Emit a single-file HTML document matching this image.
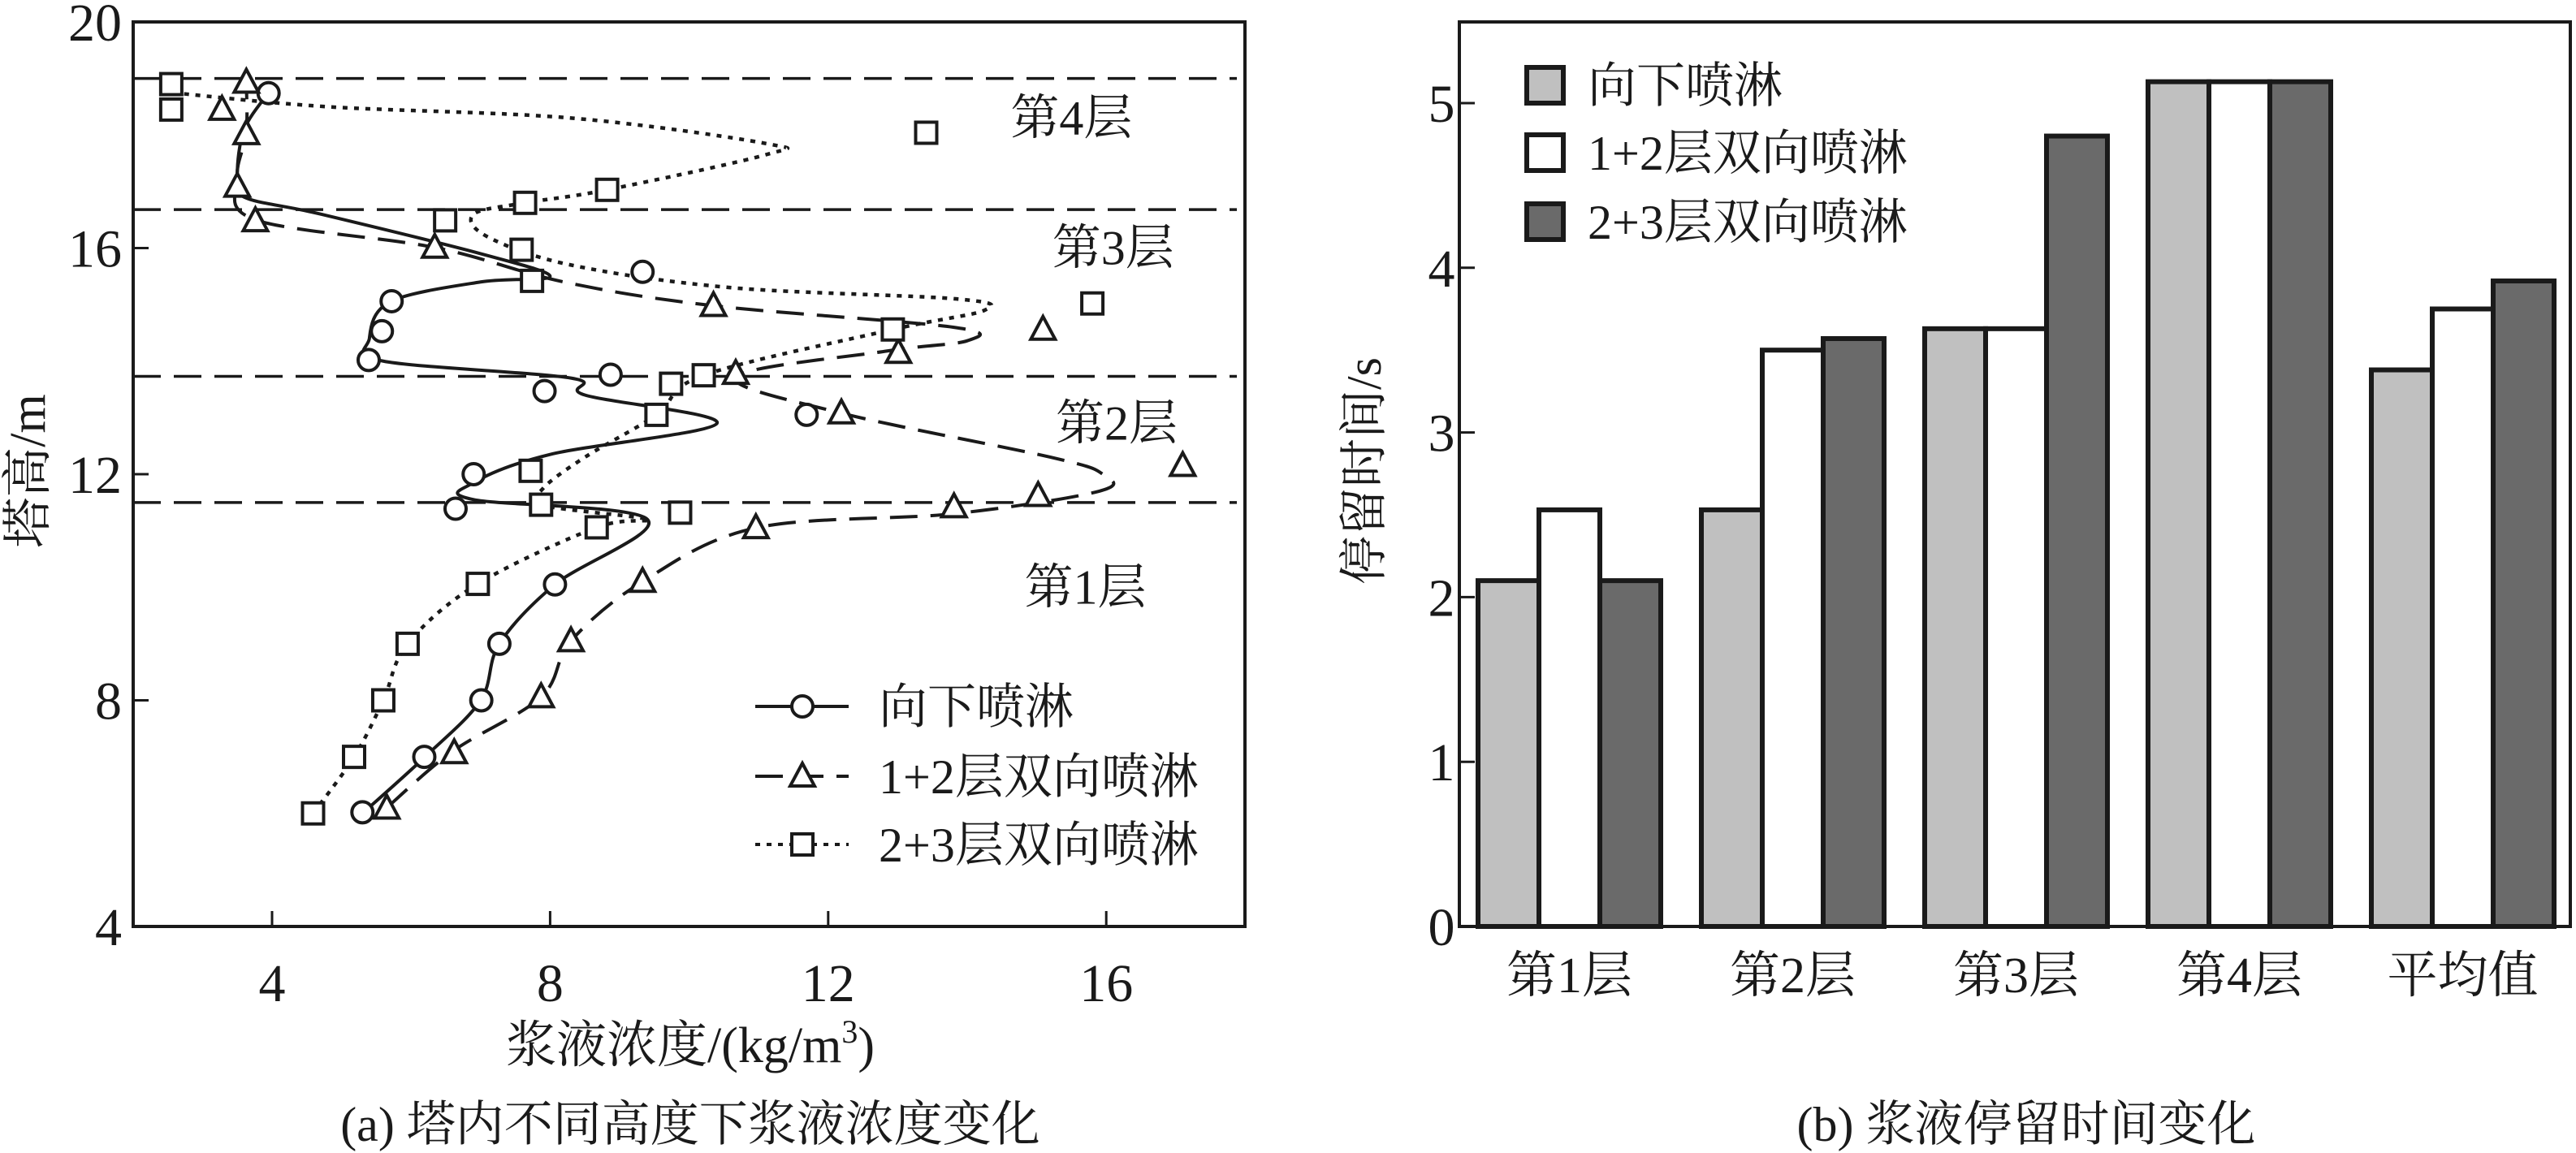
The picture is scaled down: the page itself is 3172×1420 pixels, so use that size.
<!DOCTYPE html>
<html><head><meta charset="utf-8">
<style>
html,body{margin:0;padding:0;background:#fff;}
svg{display:block;}
text{font-family:"Liberation Serif","Noto Serif CJK SC","Noto Sans CJK SC",serif;fill:#1a1a1a;}
</style></head>
<body>
<svg id="fig" width="3172" height="1420" viewBox="0 0 3172 1420" xmlns="http://www.w3.org/2000/svg">
<g id="left"></g>
<g id="right"></g>
</svg>
<script>
// ---------- Left chart data ----------
const xTicks=[4,8,12,16];
const yTicks=[4,8,12,16,20];
const layerLines=[19.0,16.68,13.73,11.5];
const layerLabels=["第4层","第3层","第2层","第1层"];
const layerLabelPos=[[15.5,18.3],[16.1,16.0],[16.15,12.9],[15.7,10.0]];
const circX=[3.95,9.33,5.72,5.58,5.39,8.87,7.92,11.69,6.90,6.64,8.07,7.27,7.01,6.19,5.30];
const circY=[18.74,15.58,15.06,14.53,14.02,13.76,13.47,13.05,12.0,11.39,10.05,9.0,8.0,7.0,6.02];
const triX=[3.63,3.28,3.63,3.5,3.76,6.34,10.35,15.09,13.01,10.67,12.19,17.1,15.02,13.81,10.96,9.33,8.3,7.87,6.62,5.65];
const triY=[18.93,18.45,18.02,17.09,16.48,16.01,14.98,14.56,14.15,13.78,13.08,12.15,11.62,11.42,11.05,10.1,9.05,8.06,7.07,6.09];
const sqX=[2.55,2.55,13.41,8.82,7.64,6.49,7.59,7.74,15.80,12.93,10.21,9.74,9.53,7.72,7.87,9.87,8.67,6.96,5.95,5.6,5.18,4.59];
const sqY=[18.9,18.45,18.04,17.03,16.8,16.49,15.97,15.42,15.02,14.56,13.75,13.6,13.05,12.06,11.46,11.32,11.06,10.06,9.0,8.0,7.0,6.0];
// fitted curves
const solidCx=[5.3,6.2,7.0,7.27,8.07,9.4,6.9,6.9,8.0,10.4,8.5,8.3,5.6,5.4,5.7,7.0,8.0,7.0,4.7,3.6,3.5,3.6,3.95];
const solidCy=[6.0,7.0,8.0,9.0,10.05,11.2,11.55,11.85,12.35,12.9,13.4,13.7,14.0,14.4,15.05,15.4,15.5,15.9,16.6,16.9,17.3,18.1,18.75];
const dashCx=[5.65,6.6,7.87,8.3,9.33,10.96,13.8,15.9,15.95,15.2,12.19,10.67,12.85,14.0,13.8,10.35,8.2,6.34,3.76,3.5,3.63,3.63];
const dashCy=[6.1,7.1,8.06,9.05,10.1,11.05,11.3,11.7,12.0,12.3,13.08,13.72,14.18,14.36,14.6,14.98,15.4,16.01,16.5,17.25,18.05,18.93];
const dotCx=[4.59,5.18,5.6,5.95,6.96,8.67,9.4,7.9,7.9,8.5,9.53,10.21,12.93,14.25,13.85,10.6,8.3,7.1,6.9,7.64,8.82,11.1,11.1,8.3,4.8,2.55];
const dotCy=[6.0,7.0,8.0,9.0,10.06,11.06,11.2,11.45,11.75,12.3,13.05,13.75,14.56,14.9,15.1,15.3,15.7,16.2,16.6,16.8,17.03,17.65,17.85,18.3,18.5,18.75];
const legendLabels=["向下喷淋","1+2层双向喷淋","2+3层双向喷淋"];

// ---------- Right chart data ----------
const categories=["第1层","第2层","第3层","第4层","平均值"];
const seriesDown=[2.1,2.53,3.63,5.13,3.38];
const series12=[2.53,3.5,3.63,5.13,3.75];
const series23=[2.1,3.57,4.8,5.13,3.92];
const rTicks=[0,1,2,3,4,5];

const NS="http://www.w3.org/2000/svg";
function mk(parent,tag,attrs,txt){const e=document.createElementNS(NS,tag);for(const k in attrs)e.setAttribute(k,attrs[k]);if(txt!==undefined)e.textContent=txt;parent.appendChild(e);return e;}

// ---- left axes ----
const L=document.getElementById('left');
const LX0=164,LX1=1533,LY0=1141,LY1=27;
const lx=v=>335+(v-4)*85.6;
const ly=v=>1141-(v-4)*69.625;
let fr=mk(L,'rect',{x:LX0,y:LY1,width:LX1-LX0,height:LY0-LY1,fill:'none',stroke:'#1a1a1a','stroke-width':4});


xTicks.forEach(t=>{
  let l=mk(L,'line',{x1:lx(t),x2:lx(t),y1:LY0,y2:LY0-19,stroke:'#1a1a1a','stroke-width':3});
  
  
  let tx=mk(L,'text',{x:lx(t),y:LY0+92,'font-size':66,'text-anchor':'middle'},String(t));
  
  
});
yTicks.forEach(t=>{
  if(t!==4&&t!==20){let l=mk(L,'line',{x1:LX0,x2:LX0+19,y1:ly(t),y2:ly(t),stroke:'#1a1a1a','stroke-width':3});
  
  }
  let tx=mk(L,'text',{x:150,y:ly(t)+23,'font-size':66,'text-anchor':'end'},String(t));
  
  
});
layerLines.forEach(v=>{
  let l=mk(L,'line',{x1:LX0,x2:LX1-10,y1:ly(v),y2:ly(v),stroke:'#1a1a1a','stroke-width':3.5,'stroke-dasharray':'34 16'});
  
  
});
layerLabels.forEach((s,i)=>{
  let t=mk(L,'text',{x:lx(layerLabelPos[i][0]),y:ly(layerLabelPos[i][1])+20,'font-size':60,'text-anchor':'middle'},s);
  
  
});
let xt=mk(L,'text',{x:850,y:1308,'font-size':62,'text-anchor':'middle'});


xt.innerHTML='浆液浓度/(kg/m<tspan dy="-24" font-size="40">3</tspan><tspan dy="24">)</tspan>';
let yt=mk(L,'text',{x:0,y:0,'font-size':62,'text-anchor':'middle',transform:'translate(55,580) rotate(-90)'},'塔高/m');


let capA=mk(L,'text',{x:850,y:1405,'font-size':60,'text-anchor':'middle'},'(a) 塔内不同高度下浆液浓度变化');



function crPath(px,py){
  let d=`M${px[0]},${py[0]}`;
  for(let i=0;i<px.length-1;i++){
    const p0=i?i-1:i,p3=i+2<px.length?i+2:i+1;
    const c1x=px[i]+(px[i+1]-px[p0])/6,c1y=py[i]+(py[i+1]-py[p0])/6;
    const c2x=px[i+1]-(px[p3]-px[i])/6,c2y=py[i+1]-(py[p3]-py[i])/6;
    d+=` C${c1x},${c1y} ${c2x},${c2y} ${px[i+1]},${py[i+1]}`;
  }
  return d;
}
let c1=mk(L,'path',{d:crPath(solidCx.map(lx),solidCy.map(ly)),fill:'none',stroke:'#1a1a1a','stroke-width':4});


let c2=mk(L,'path',{d:crPath(dashCx.map(lx),dashCy.map(ly)),fill:'none',stroke:'#1a1a1a','stroke-width':4,'stroke-dasharray':'34 16'});


let c3=mk(L,'path',{d:crPath(dotCx.map(lx),dotCy.map(ly)),fill:'none',stroke:'#1a1a1a','stroke-width':4.5,'stroke-dasharray':'6 8'});



function circle(x,y){return mk(L,'circle',{cx:x,cy:y,r:13,fill:'#fff',stroke:'#1a1a1a','stroke-width':4});}
function tri(x,y){return mk(L,'polygon',{points:`${x},${y-16} ${x+15},${y+12} ${x-15},${y+12}`,fill:'#fff',stroke:'#1a1a1a','stroke-width':4});}
function sq(x,y){return mk(L,'rect',{x:x-13,y:y-13,width:26,height:26,fill:'#fff',stroke:'#1a1a1a','stroke-width':4});}
circX.forEach((v,i)=>{let e=circle(lx(v),ly(circY[i]));
  
  });
triX.forEach((v,i)=>{let e=tri(lx(v),ly(triY[i]));
  
  });
sqX.forEach((v,i)=>{let e=sq(lx(v),ly(sqY[i]));
  
  });

// legend left
const legY=[870,956,1040];
const dashes=['none','34 16','6 8'];
legendLabels.forEach((s,i)=>{
  let l=mk(L,'line',{x1:930,x2:1045,y1:legY[i],y2:legY[i],stroke:'#1a1a1a','stroke-width':4,'stroke-dasharray':dashes[i]});
  
  
  let m=i===0?circle(988,legY[i]):i===1?tri(988,legY[i]):sq(988,legY[i]);
  
  
  let t=mk(L,'text',{x:1082,y:legY[i]+21,'font-size':60},s);
  
  
});

// ---- right chart ----
const R=document.getElementById('right');
const RX0=1797,RX1=3165,RY0=1141,RY1=27;
const ry=v=>1141-v*202.8;
const gx=i=>1820+i*275;
const bw=75;
let rf=mk(R,'rect',{x:RX0,y:RY1,width:RX1-RX0,height:RY0-RY1,fill:'none',stroke:'#1a1a1a','stroke-width':4});


rTicks.forEach(t=>{
  if(t>0){let l=mk(R,'line',{x1:RX0,x2:RX0+19,y1:ry(t),y2:ry(t),stroke:'#1a1a1a','stroke-width':3});
  
  }
  let tx=mk(R,'text',{x:1775,y:ry(t)+23,'font-size':66,'text-anchor':'middle'},String(t));
  
  
});
const fills=['#c0c0c0','#ffffff','#6a6a6a'];
const allSeries=[seriesDown,series12,series23];
allSeries.forEach((s,k)=>{
  s.forEach((v,i)=>{
    let b=mk(R,'rect',{x:gx(i)+k*bw,y:ry(v),width:bw,height:RY0-ry(v),fill:fills[k],stroke:'#1a1a1a','stroke-width':6});
    
    
  });
});
categories.forEach((c,i)=>{
  let t=mk(R,'text',{x:gx(i)+bw*1.5,y:1222,'font-size':62,'text-anchor':'middle'},c);
  
  
});
const rLegY=[83,166,251];
legendLabels.forEach((s,i)=>{
  let b=mk(R,'rect',{x:1880,y:rLegY[i],width:45,height:44,fill:fills[i],stroke:'#1a1a1a','stroke-width':6});
  
  
  let t=mk(R,'text',{x:1955,y:rLegY[i]+43,'font-size':60},s);
  
  
});
let ryt=mk(R,'text',{x:0,y:0,'font-size':60,'text-anchor':'middle',transform:'translate(1700,580) rotate(-90)'},'停留时间/s');


let capB=mk(R,'text',{x:2495,y:1405,'font-size':60,'text-anchor':'middle'},'(b) 浆液停留时间变化');


</script>
</body></html>
